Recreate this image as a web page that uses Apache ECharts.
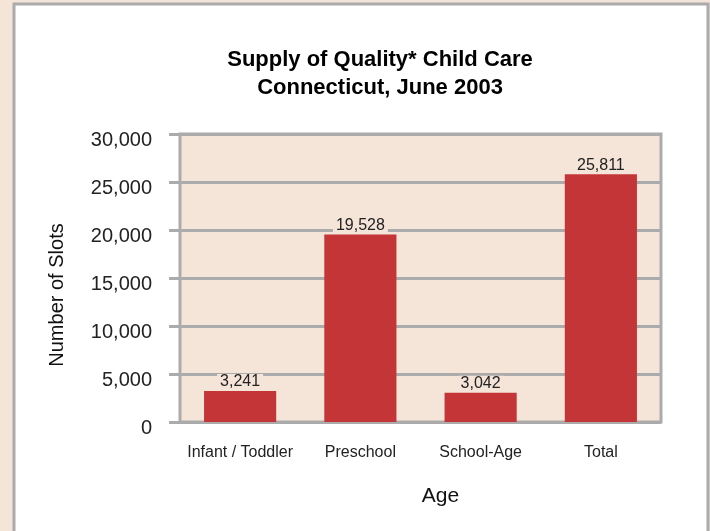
<!DOCTYPE html>
<html><head><meta charset="utf-8">
<script src="https://cdn.jsdelivr.net/npm/echarts@6/dist/echarts.min.js"></script>
<style>html,body{margin:0;padding:0;background:#f5e4d8;}#c{width:710px;height:531px;}</style>
</head><body><div id="c"></div>
<script>
const categories = ['Infant / Toddler', 'Preschool', 'School-Age', 'Total'];
const slots = [3241, 19528, 3042, 25811];
const yTicks = [0, 5000, 10000, 15000, 20000, 25000, 30000];

const chart = echarts.init(document.getElementById('c'));
chart.setOption({
  backgroundColor: '#f5e4d8',
  animation: false,
  graphic: [{
    type: 'rect', z: -100, silent: true,
    shape: {x: 14, y: 4, width: 694, height: 560},
    style: {fill: '#ffffff', stroke: '#ababab', lineWidth: 3}
  }],
  title: {
    text: 'Supply of Quality* Child Care\nConnecticut, June 2003',
    left: 375, top: 41, textAlign: 'center',
    textStyle: {fontFamily: 'Liberation Sans', fontWeight: 'bold', fontSize: 22, lineHeight: 28, color: '#000'}
  },
  grid: {
    left: 180, right: 49, top: 134, bottom: 109,
    show: true, backgroundColor: '#f5e4d8', borderColor: '#ababab', borderWidth: 3
  },
  xAxis: {
    type: 'category', data: categories,
    name: 'Age', nameLocation: 'middle', nameGap: 64,
    nameTextStyle: {fontFamily: 'Liberation Sans', fontSize: 21, color: '#111', padding: [0, 0, 0, 40]},
    axisLine: {show: false}, axisTick: {show: false},
    axisLabel: {interval: 0, hideOverlap: false, margin: 23, fontFamily: 'Liberation Sans', fontSize: 16, color: '#222'}
  },
  yAxis: {
    type: 'value', min: yTicks[0], max: yTicks[yTicks.length - 1], interval: yTicks[1] - yTicks[0],
    name: 'Number of Slots', nameLocation: 'middle', nameRotate: 90, nameGap: 113,
    nameTextStyle: {fontFamily: 'Liberation Sans', fontSize: 20, color: '#111', padding: [0, 34, 0, 0]},
    axisLine: {show: false},
    axisTick: {show: true, length: 11, lineStyle: {color: '#ababab', width: 3}},
    splitLine: {show: true, lineStyle: {color: '#ababab', width: 3}},
    axisLabel: {
      margin: 28, fontFamily: 'Liberation Sans', fontSize: 20, color: '#222',
      verticalAlign: 'top', lineHeight: 12,
      formatter: v => v.toLocaleString('en-US')
    }
  },
  series: [{
    type: 'bar', data: slots, barWidth: '60%',
    itemStyle: {color: '#c43538'},
    label: {
      show: true, position: 'top', distance: 1,
      fontFamily: 'Liberation Sans', fontSize: 16, color: '#222',
      backgroundColor: '#f5e4d8', padding: [0, 3, 0, 3],
      formatter: p => p.value.toLocaleString('en-US')
    }
  }]
});
</script></body></html>
